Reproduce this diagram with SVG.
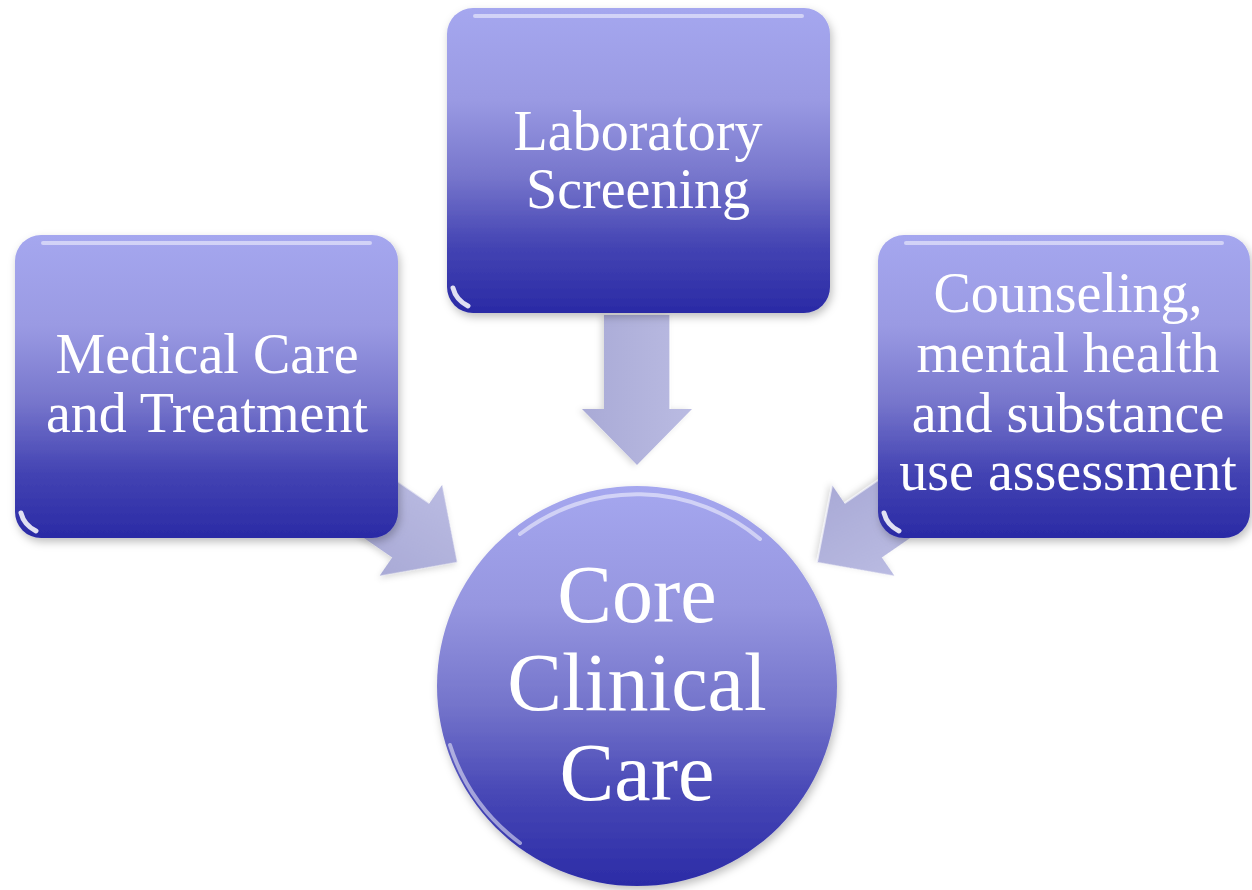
<svg xmlns="http://www.w3.org/2000/svg" width="1252" height="890" viewBox="0 0 1252 890">
  <defs>
    <linearGradient id="boxGrad" x1="0" y1="0" x2="0" y2="1">
      <stop offset="0" stop-color="#a5a7ef"/>
      <stop offset="0.3" stop-color="#9a9ae3"/>
      <stop offset="0.55" stop-color="#7776cc"/>
      <stop offset="0.78" stop-color="#4444b3"/>
      <stop offset="1" stop-color="#2a2aa5"/>
    </linearGradient>
    <linearGradient id="circGrad" x1="0" y1="0" x2="0" y2="1">
      <stop offset="0" stop-color="#a5a7ef"/>
      <stop offset="0.3" stop-color="#9696e0"/>
      <stop offset="0.55" stop-color="#7474cb"/>
      <stop offset="0.78" stop-color="#4646b5"/>
      <stop offset="1" stop-color="#2b2ba6"/>
    </linearGradient>
    <linearGradient id="arrowGrad" x1="0" y1="0" x2="0" y2="1">
      <stop offset="0" stop-color="#babbe2"/>
      <stop offset="1" stop-color="#a9aad6"/>
    </linearGradient>
    <filter id="shadow" x="-10%" y="-10%" width="120%" height="125%">
      <feDropShadow dx="2" dy="4" stdDeviation="4" flood-color="#000" flood-opacity="0.25"/>
    </filter>
    <filter id="ashadow" x="-20%" y="-20%" width="140%" height="140%">
      <feDropShadow dx="1" dy="3" stdDeviation="3" flood-color="#000" flood-opacity="0.15"/>
    </filter>
    <polygon id="arrowShape" points="0,0 -56,-55 -56,-33 -150,-33 -150,33 -56,33 -56,55"/>
  </defs>
  <style>
    .box { fill: url(#boxGrad); filter: url(#shadow); }
    .hl { fill: none; stroke: #ffffff; stroke-opacity: 0.5; stroke-width: 4; stroke-linecap: round; }
    .glint { fill: none; stroke: #ffffff; stroke-opacity: 0.85; stroke-width: 5; stroke-linecap: round; }
    .arrow { fill: url(#arrowGrad); filter: url(#ashadow); }
    .ahl { fill: none; stroke: #ffffff; stroke-opacity: 0.6; stroke-width: 2; }
    text { font-family: "Liberation Serif", "Times New Roman", serif; fill: #ffffff; text-anchor: middle; }
    .t { font-size: 56px; }
    .tc { font-size: 82px; }
  </style>

  <g id="connectors">
    <g id="arrow-top" transform="translate(637,465) rotate(90)">
      <use href="#arrowShape" class="arrow"/>
      <line x1="-56" y1="-33" x2="-150" y2="-33" class="ahl"/>
    </g>
    <g id="arrow-left" transform="translate(457,562) rotate(34.5)">
      <use href="#arrowShape" class="arrow"/>
      <line x1="-56" y1="-33" x2="-150" y2="-33" class="ahl"/>
    </g>
    <g id="arrow-right" transform="translate(817,562) rotate(145.5)">
      <use href="#arrowShape" class="arrow"/>
      <line x1="-56" y1="33" x2="-150" y2="33" class="ahl"/>
      <line x1="0" y1="0" x2="-56" y2="55" class="ahl"/>
    </g>
  </g>

  <g id="node-lab">
    <rect x="447" y="8" width="383" height="305" rx="26" class="box"/>
    <line x1="475" y1="16" x2="802" y2="16" class="hl"/>
    <path d="M 453 288 Q 456 300 468 306" class="glint"/>
    <text class="t" x="638" y="150">Laboratory</text>
    <text class="t" x="638" y="208">Screening</text>
  </g>

  <g id="node-medical">
    <rect x="15" y="235" width="383" height="303" rx="26" class="box"/>
    <line x1="43" y1="243" x2="370" y2="243" class="hl"/>
    <path d="M 21 513 Q 24 525 36 531" class="glint"/>
    <text class="t" x="207" y="373">Medical Care</text>
    <text class="t" x="207" y="432">and Treatment</text>
  </g>

  <g id="node-counseling">
    <rect x="878" y="235" width="372" height="303" rx="26" class="box"/>
    <line x1="906" y1="243" x2="1222" y2="243" class="hl"/>
    <path d="M 884 513 Q 887 525 899 531" class="glint"/>
    <text class="t" x="1068" y="312">Counseling,</text>
    <text class="t" x="1068" y="372">mental health</text>
    <text class="t" x="1068" y="432">and substance</text>
    <text class="t" x="1068" y="490">use assessment</text>
  </g>

  <g id="node-core">
    <circle cx="637" cy="686" r="200" fill="url(#circGrad)" filter="url(#shadow)"/>
    <path d="M 520 534 A 192 192 0 0 1 760 539" class="hl"/>
    <path d="M 450 745 A 196 196 0 0 0 520 843" class="hl" stroke-opacity="0.4"/>
    <text class="tc" x="637" y="622">Core</text>
    <text class="tc" x="637" y="710">Clinical</text>
    <text class="tc" x="637" y="800">Care</text>
  </g>
</svg>
